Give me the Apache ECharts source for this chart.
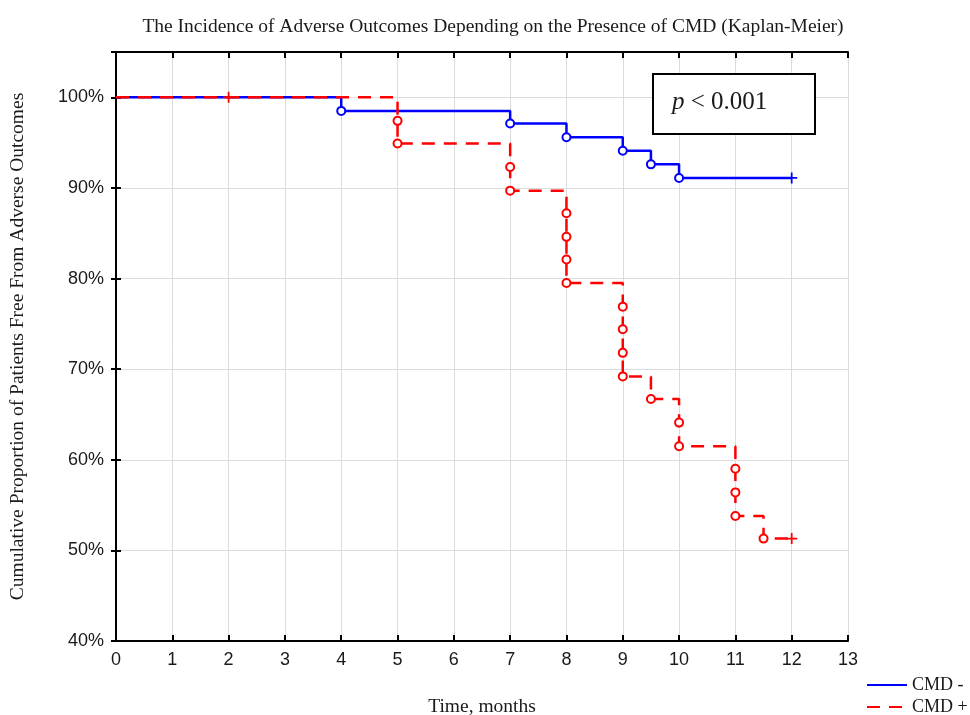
<!DOCTYPE html>
<html>
<head>
<meta charset="utf-8">
<script src="https://cdn.jsdelivr.net/npm/echarts@6/dist/echarts.min.js"></script>
<style>
  html, body { margin: 0; padding: 0; background: #fff; }
  #chart { width: 970px; height: 715px; }
</style>
</head>
<body>
<div id="chart"></div>
<script>
// CMD - (blue, solid)
var negTimes = [0, 4, 7, 8, 9, 9.5, 10, 12];
var negSurv = [100, 98.5, 97.1, 95.6, 94.1, 92.6, 91.1, 91.1];
var negKind = ["start", "event", "event", "event", "event", "event", "event", "censored"];

// CMD + (red, dashed)
var posTimes = [0, 2, 5, 5, 7, 7, 8, 8, 8, 8, 9, 9, 9, 9, 9.5, 10, 10, 11, 11, 11, 11.5, 12];
var posSurv = [100, 100, 97.4, 94.9, 92.3, 89.7, 87.2, 84.6, 82.1, 79.5, 76.9, 74.4, 71.8, 69.2, 66.7, 64.1, 61.5, 59.0, 56.4, 53.8, 51.3, 51.3];
var posKind = ["start", "censored", "event", "event", "event", "event", "event", "event", "event", "event", "event", "event", "event", "event", "event", "event", "event", "event", "event", "event", "event", "censored"];

var seriesNames = ["CMD -", "CMD +"];
var xTicks = [0, 13];   // months
var yTicks = [40, 105]; // percent

var plusPath = "path://M4.2,0H5.8V4.2H10V5.8H5.8V10H4.2V5.8H0V4.2H4.2Z";
var serif = "Liberation Serif";

function buildData(times, surv, kinds) {
  return times.map(function (t, i) {
    var item = { value: [t, surv[i]] };
    if (kinds[i] === "start") {
      item.symbol = "none";
    } else if (kinds[i] === "censored") {
      item.symbol = plusPath;
      item.symbolSize = 11;
      item.itemStyle = { borderWidth: 0 };
    } else {
      item.symbol = "emptyCircle";
      item.symbolSize = 8;
    }
    return item;
  });
}

function legendAt(name, top) {
  return {
    orient: "vertical",
    left: 866,
    top: top,
    padding: 0,
    itemWidth: 40,
    itemHeight: 12,
    itemStyle: { opacity: 0, color: "rgba(0,0,0,0)", borderColor: "rgba(0,0,0,0)", borderWidth: 0 },
    textStyle: { fontFamily: serif, fontSize: 18, color: "#1a1a1a" },
    data: [name]
  };
}

var chart = echarts.init(document.getElementById("chart"));

var option = {
  animation: false,
  backgroundColor: "#fff",
  title: {
    text: "The Incidence of Adverse Outcomes Depending on the Presence of CMD (Kaplan-Meier)",
    left: 488,
    top: 12,
    textAlign: "center",
    textStyle: {
      fontFamily: serif,
      fontSize: 19.5,
      fontWeight: "normal",
      color: "#1a1a1a"
    }
  },
  grid: {
    left: 116,
    right: 122,
    top: 52,
    bottom: 74,
    outerBoundsMode: "none",
    containLabel: false
  },
  legend: [legendAt(seriesNames[0], 676), legendAt(seriesNames[1], 698)],
  xAxis: [
    {
      type: "value",
      min: xTicks[0],
      max: xTicks[1],
      interval: 1,
      name: "Time, months",
      nameLocation: "middle",
      nameGap: 56,
      nameTextStyle: { fontFamily: serif, fontSize: 19.5, color: "#1a1a1a" },
      axisLine: { lineStyle: { color: "#000", width: 2 } },
      axisTick: { inside: true, length: 6, lineStyle: { color: "#000", width: 2 } },
      axisLabel: { fontFamily: "Liberation Sans", fontSize: 18, color: "#1a1a1a", margin: 10 },
      splitLine: { show: true, lineStyle: { color: "#dcdcdc", width: 1 } }
    },
    {
      type: "value",
      position: "top",
      min: xTicks[0],
      max: xTicks[1],
      interval: 1,
      axisLine: { lineStyle: { color: "#000", width: 2 } },
      axisTick: { inside: true, length: 6, lineStyle: { color: "#000", width: 2 } },
      axisLabel: { show: false },
      splitLine: { show: false }
    }
  ],
  yAxis: [
    {
      type: "value",
      min: yTicks[0],
      max: yTicks[1],
      interval: 10,
      name: "Cumulative Proportion of Patients Free From Adverse Outcomes",
      nameLocation: "middle",
      nameGap: 88,
      nameTextStyle: { fontFamily: serif, fontSize: 19.5, color: "#1a1a1a" },
      axisLine: { show: true, lineStyle: { color: "#000", width: 2 } },
      axisTick: { show: true, inside: true, length: 5, lineStyle: { color: "#000", width: 2 } },
      axisLabel: {
        fontFamily: "Liberation Sans",
        fontSize: 18,
        color: "#1a1a1a",
        margin: 12,
        formatter: function (v) { return v % 10 === 0 ? v + "%" : ""; }
      },
      splitLine: { show: true, lineStyle: { color: "#dcdcdc", width: 1 } }
    },
    {
      type: "value",
      position: "right",
      min: yTicks[0],
      max: yTicks[1],
      interval: 10,
      axisLine: { show: true, lineStyle: { color: "#000", width: 2 } },
      axisTick: { show: true, inside: true, length: 5, lineStyle: { color: "#000", width: 2 } },
      axisLabel: { show: false },
      splitLine: { show: false }
    }
  ],
  series: [
    {
      name: seriesNames[0],
      type: "line",
      step: "end",
      color: "#0000ff",
      symbol: "none",
      showAllSymbol: true,
      lineStyle: { color: "#0000ff", width: 2.5 },
      itemStyle: { color: "#0000ff", borderWidth: 2 },
      z: 3,
      data: buildData(negTimes, negSurv, negKind)
    },
    {
      name: seriesNames[1],
      type: "line",
      step: "end",
      color: "#ff0000",
      symbol: "none",
      showAllSymbol: true,
      lineStyle: { color: "#ff0000", width: 2.5, type: [13, 9] },
      itemStyle: { color: "#ff0000", borderWidth: 2 },
      z: 4,
      data: buildData(posTimes, posSurv, posKind)
    }
  ],
  graphic: [
    {
      type: "rect",
      left: 652,
      top: 73,
      shape: { width: 162, height: 60 },
      style: { fill: "#fff", stroke: "#000", lineWidth: 2 },
      z: 10
    },
    {
      type: "text",
      left: 672,
      top: 90,
      z: 11,
      style: {
        text: "{i|p} < 0.001",
        font: "25px " + serif,
        fill: "#1a1a1a",
        rich: {
          i: { fontFamily: serif, fontSize: 25, fontStyle: "italic", fill: "#1a1a1a" }
        }
      }
    }
  ]
};

chart.setOption(option);
</script>
</body>
</html>
